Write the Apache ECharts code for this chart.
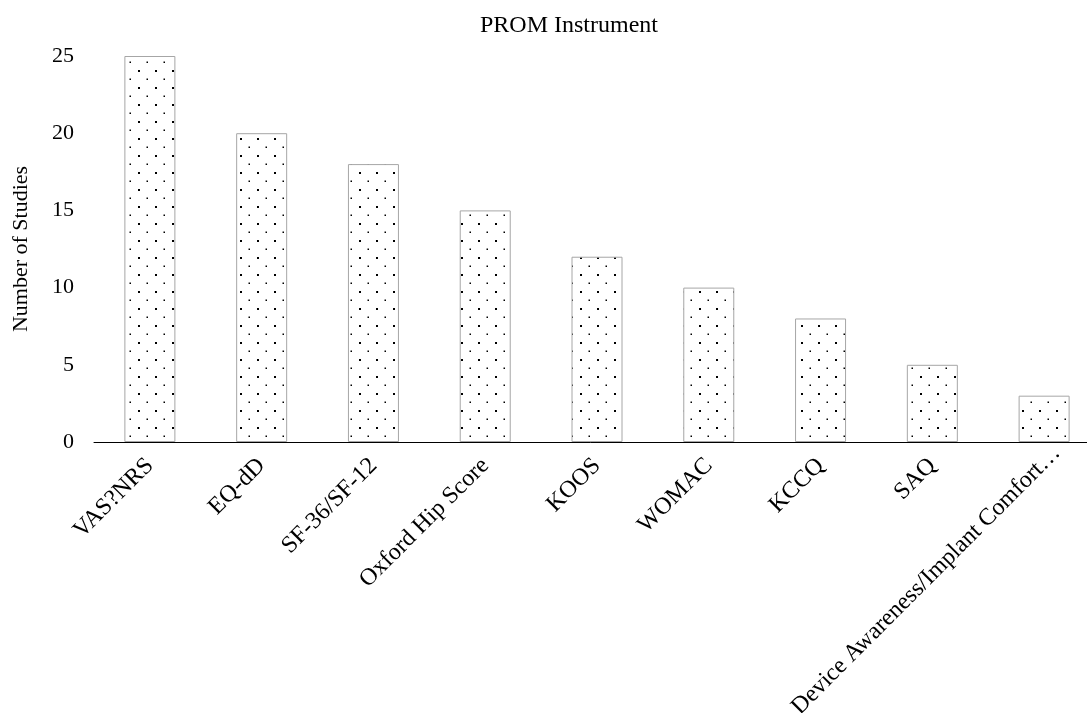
<!DOCTYPE html>
<html>
<head>
<meta charset="utf-8">
<script src="https://cdn.jsdelivr.net/npm/echarts@6/dist/echarts.min.js"></script>
<style>
html,body{margin:0;padding:0;background:#fff;}
#chart{width:1087px;height:713px;}
</style>
</head>
<body>
<div id="chart"></div>
<script>
const categories = ["VAS?NRS","EQ-dD","SF-36/SF-12","Oxford Hip Score","KOOS","WOMAC","KCCQ","SAQ","Device Awareness/Implant Comfort…"];
const studyCounts = [25, 20, 18, 15, 12, 10, 8, 5, 3];
const yTicks = [0, 5, 10, 15, 20, 25];

// dotted fill pattern
const tile = document.createElement('canvas');
tile.width = 17; tile.height = 17;
const tctx = tile.getContext('2d');
tctx.fillStyle = '#ffffff';
tctx.fillRect(0, 0, 17, 17);
tctx.fillStyle = '#000000';
tctx.fillRect(2, 2, 2, 2);
tctx.fillRect(10.5, 10.5, 1.5, 1.5);

const FONT = '"Liberation Serif", "Times New Roman", serif';

// the long last label sits a little further along its slant in the original
const categoryItems = categories.map(function (c, i) {
  return i === categories.length - 1
    ? {value: c, textStyle: {padding: [0, -18, 0, 0]}}
    : c;
});

const chart = echarts.init(document.getElementById('chart'), null, {renderer: 'canvas'});
chart.setOption({
  backgroundColor: '#ffffff',
  animation: false,
  title: {
    text: 'PROM Instrument',
    left: 475,
    top: 9,
    textStyle: {fontFamily: FONT, fontSize: 24, fontWeight: 'normal', color: '#000'}
  },
  grid: {left: 94, width: 1006, top: 56, height: 386, containLabel: false, outerBoundsMode: 'none'},
  xAxis: {
    type: 'category',
    data: categoryItems,
    axisLine: {show: true, lineStyle: {color: '#000', width: 1}},
    axisTick: {show: false},
    axisLabel: {
      interval: 0,
      rotate: 45,
      margin: 20,
      fontFamily: FONT,
      fontSize: 24,
      color: '#000'
    }
  },
  yAxis: {
    type: 'value',
    min: yTicks[0],
    max: yTicks[yTicks.length - 1],
    interval: 5,
    name: 'Number of Studies',
    nameLocation: 'middle',
    nameGap: 62,
    nameRotate: 90,
    nameTextStyle: {fontFamily: FONT, fontSize: 22, color: '#000'},
    axisLine: {show: false},
    axisTick: {show: false},
    splitLine: {show: false},
    axisLabel: {fontFamily: FONT, fontSize: 22, color: '#000', margin: 20}
  },
  series: [{
    type: 'bar',
    data: studyCounts,
    barWidth: 51,
    itemStyle: {
      color: {image: tile, repeat: 'repeat'},
      borderColor: '#a6a6a6',
      borderWidth: 1
    }
  }]
});
</script>
</body>
</html>
